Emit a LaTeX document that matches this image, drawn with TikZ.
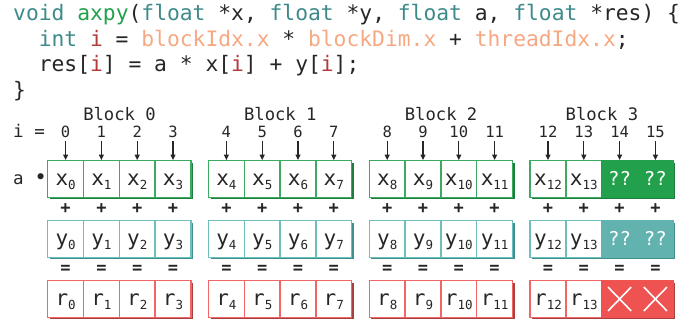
\documentclass[tikz,border=0pt]{standalone}
\usepackage{fontspec}
\setmonofont{DejaVu Sans Mono}
\usetikzlibrary{shadows,arrows.meta}

% code colours
\definecolor{kwteal}{HTML}{3E8A8A}
\definecolor{fngreen}{HTML}{22A04B}
\definecolor{varred}{HTML}{B23A3A}
\definecolor{bisalmon}{HTML}{F5A882}
\definecolor{ink}{HTML}{262626}
% array colours
\definecolor{xline}{HTML}{3DAA62}
\definecolor{xshade}{HTML}{1E7D3E}
\definecolor{xfill}{HTML}{22A04B}
\definecolor{yline}{HTML}{6CBFBD}
\definecolor{yshade}{HTML}{3F8F8D}
\definecolor{yfill}{HTML}{62B2B0}
\definecolor{rline}{HTML}{F06565}
\definecolor{rshade}{HTML}{A8403F}
\definecolor{rfill}{HTML}{EE5352}

\newcommand{\ckw}[1]{{\color{kwteal}#1}}
\newcommand{\cfn}[1]{{\color{fngreen}#1}}
\newcommand{\cbi}[1]{{\color{bisalmon}#1}}
\newcommand{\cvar}[1]{{\color{varred}#1}}
\newcommand{\cellsub}[2]{#1\raisebox{-4pt}{\fontsize{12.5}{12.5}\selectfont #2}}

\tikzset{
  codeline/.style={anchor=base west, inner sep=0pt, text=ink, font=\fontsize{21.3}{21.3}\selectfont\ttfamily},
  sidelabel/.style={anchor=base west, inner sep=0pt, text=ink, font=\fontsize{17.5}{17.5}\selectfont\ttfamily},
  blocklabel/.style={anchor=base, inner sep=0pt, text=ink, font=\fontsize{17.2}{17.2}\selectfont\ttfamily},
  idx/.style={anchor=base, inner sep=1pt, text=ink, font=\fontsize{15.5}{15.5}\selectfont\ttfamily},
  op/.style={inner sep=0pt, text=ink, font=\fontsize{17}{17}\selectfont\ttfamily\bfseries},
  ptr/.style={draw=ink, line width=1.2pt, shorten <=3pt, -{Triangle[length=5.5pt,width=5pt]}},
  cell/.style={draw, line width=1.4pt, fill=white, minimum width=35.8pt, minimum height=36.5pt,
    inner sep=0pt, text height=12.5pt, text depth=0pt, text=ink, font=\fontsize{21}{21}\selectfont\ttfamily},
  xcell/.style={cell, draw=xline, drop shadow={shadow xshift=2pt, shadow yshift=-2pt, fill=xshade, opacity=1}},
  ycell/.style={cell, draw=yline, drop shadow={shadow xshift=2pt, shadow yshift=-2pt, fill=yshade, opacity=1}},
  rcell/.style={cell, draw=rline, drop shadow={shadow xshift=2pt, shadow yshift=-2pt, fill=rshade, opacity=1}},
  cross/.style={draw=white, line width=1.6pt}
}

\begin{document}
\begin{tikzpicture}[x=1pt, y=-1pt]
  \useasboundingbox (0,0) rectangle (698,322);
  % kernel source
  \node[codeline] (line1) at (13,20.5) {\ckw{void} \cfn{axpy}(\ckw{float} *x, \ckw{float} *y, \ckw{float} a, \ckw{float} *res) \{};
  \node[codeline] (line2) at (38.6,46.2) {\ckw{int} \cvar{i} = \cbi{blockIdx.x} * \cbi{blockDim.x} + \cbi{threadIdx.x};};
  \node[codeline] (line3) at (38.6,71.9) {res[\cvar{i}] = a * x[\cvar{i}] + y[\cvar{i}];};
  \node[codeline] (line4) at (13,97.5) {\}};
  % row labels
  \node[sidelabel] (ilabel) at (13,137) {i =};
  \node[sidelabel] (alabel) at (13,184) {a {\fontsize{21}{21}\selectfont•}};
  % four blocks of four threads
  \foreach \b in {0,...,3}{
    \node[blocklabel] (blk-\b) at ({119.5+160.8*\b},120) {Block \b};
    \foreach \c in {0,...,3}{
      \pgfmathtruncatemacro{\n}{4*\b+\c}
      \pgfmathsetmacro{\cx}{65.6+160.8*\b+35.8*\c}
      \node[idx] (i-\n) at (\cx,137) {\n};
      \ifnum\n<14
        \node[xcell] (x-\n) at (\cx,179) {\cellsub{x}{\n}};
        \node[ycell] (y-\n) at (\cx,239) {\cellsub{y}{\n}};
        \node[rcell] (r-\n) at (\cx,299) {\cellsub{r}{\n}};
      \else
        \node[xcell, draw=xfill, fill=xfill, text=white, font=\fontsize{19}{19}\selectfont\ttfamily] (x-\n) at (\cx,179) {??};
        \node[ycell, draw=yfill, fill=yfill, text=white, font=\fontsize{19}{19}\selectfont\ttfamily] (y-\n) at (\cx,239) {??};
        \node[rcell, draw=rfill, fill=rfill] (r-\n) at (\cx,299) {};
        \draw[cross] ([shift={(7pt,-7pt)}]r-\n.north west) -- ([shift={(-7pt,7pt)}]r-\n.south east);
        \draw[cross] ([shift={(-7pt,-7pt)}]r-\n.north east) -- ([shift={(7pt,7pt)}]r-\n.south west);
      \fi
      \draw[ptr] (i-\n.south) -- (x-\n.north);
      \node[op] (p-\n) at (\cx,209) {+};
      \node[op] (e-\n) at (\cx,269) {=};
    }
  }
\end{tikzpicture}
\end{document}
